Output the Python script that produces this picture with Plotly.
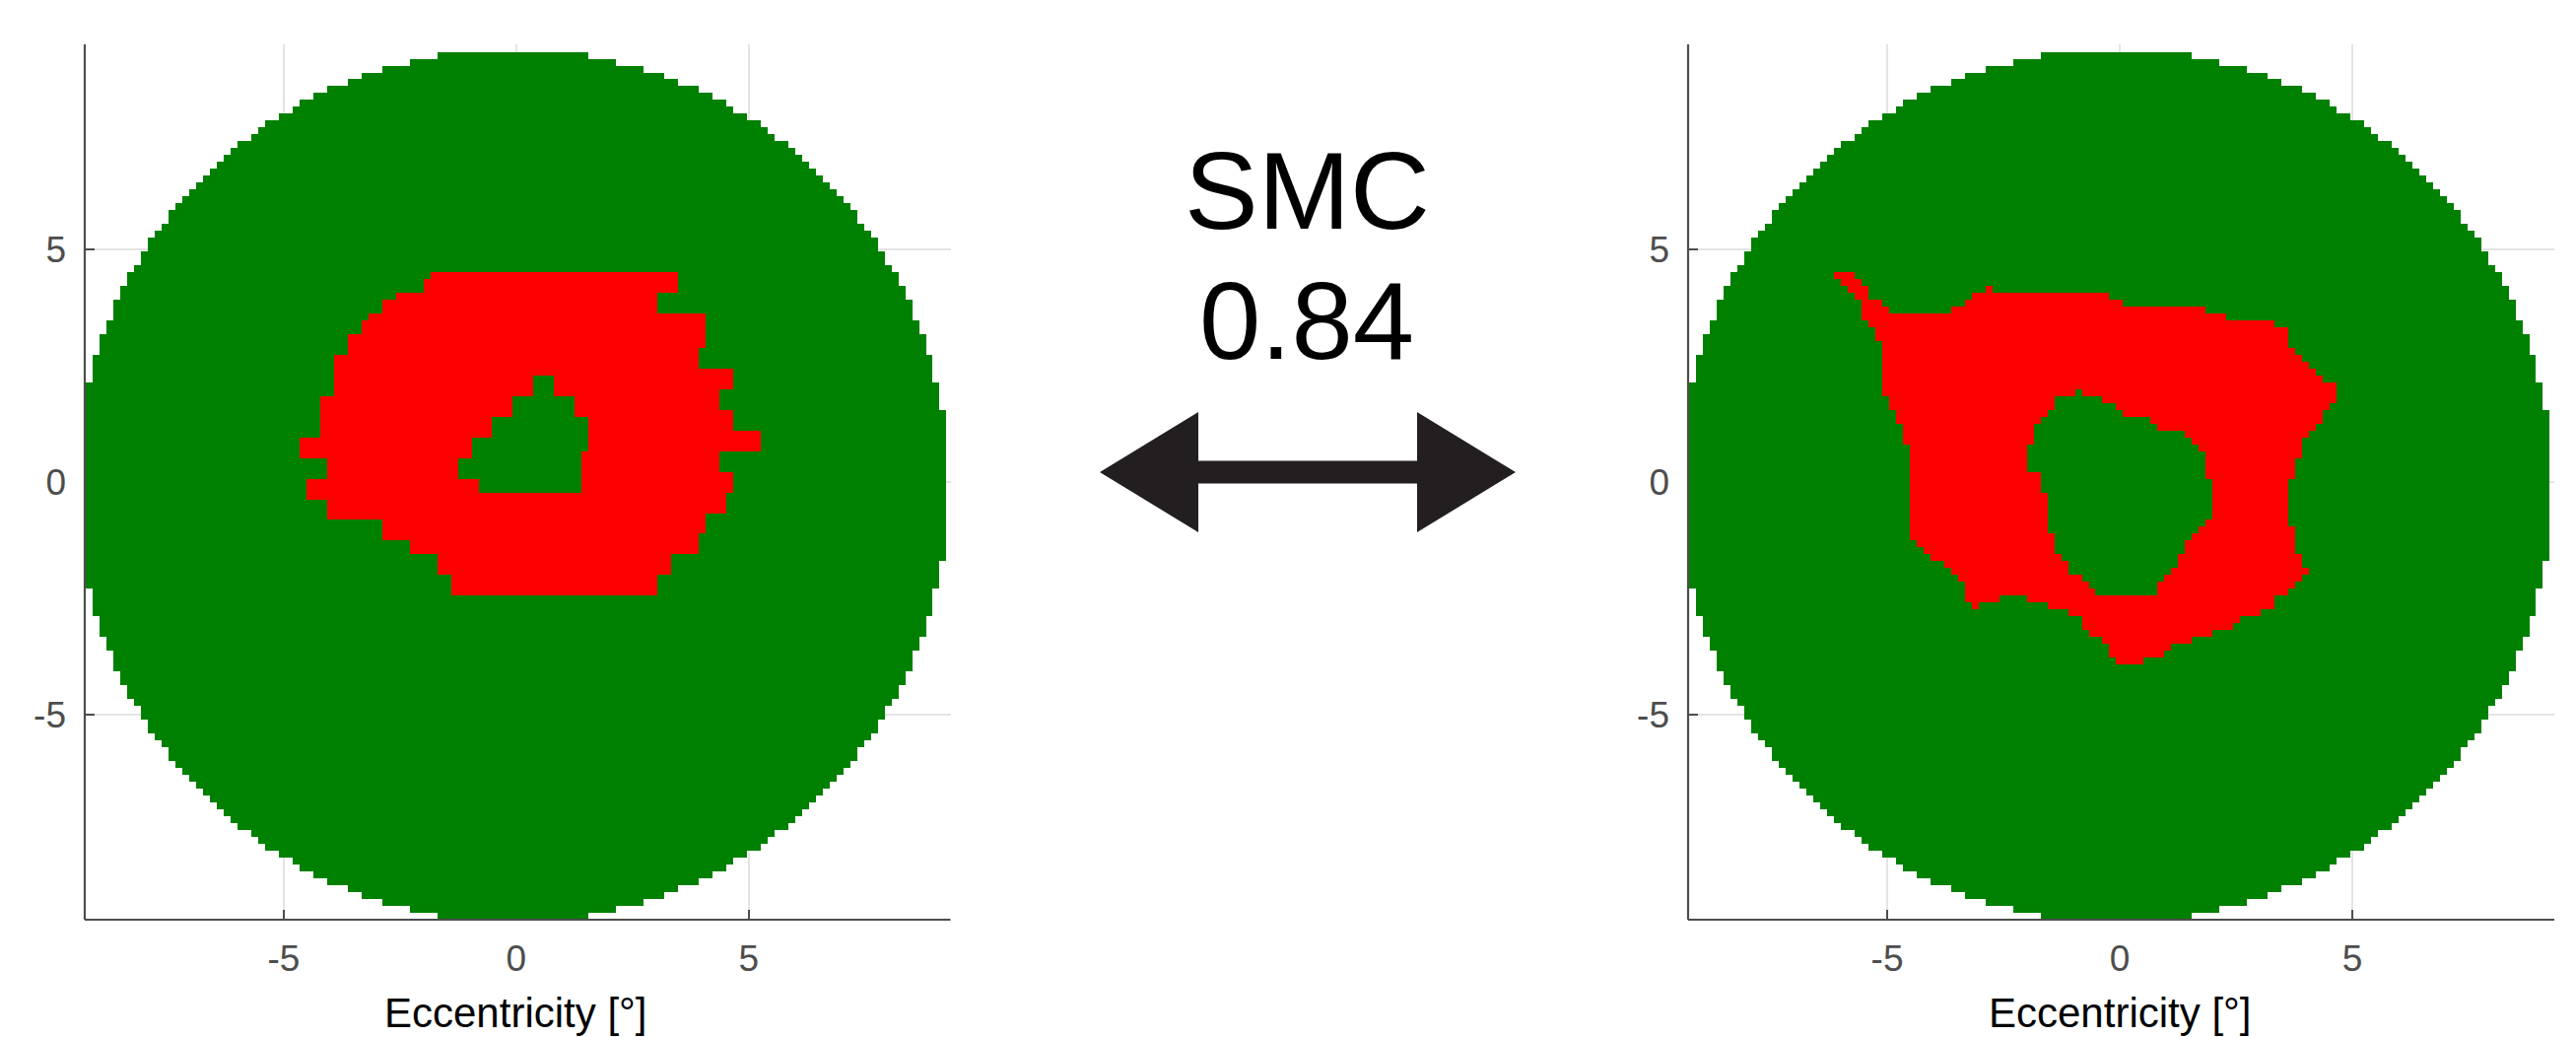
import numpy as np
import plotly.graph_objects as go

# ---------------------------------------------------------------------------
# Test grid and field
# ---------------------------------------------------------------------------
CELL = 0.148                 # spacing of the stimulus grid (deg)
FIELD_RADIUS = 9.385         # radius of the tested field (deg)
GRID_INDEX = np.arange(-64, 64)

# Scotoma outlines (deg) — left map
left_outer_x = [-1.83, 3.50, 3.50, 3.06, 3.06, 4.09, 4.09, 3.95, 3.95, 4.68, 4.68, 4.38,
                4.38, 4.68, 4.68, 5.28, 5.28, 4.38, 4.38, 4.68, 4.68, 4.53, 4.53, 4.09,
                4.09, 3.95, 3.95, 3.35, 3.35, 3.06, 3.06, -1.39, -1.39, -1.69, -1.69, -2.27,
                -2.27, -2.87, -2.87, -4.06, -4.06, -4.50, -4.50, -4.06, -4.06, -4.65, -4.65, -4.21,
                -4.21, -3.92, -3.92, -3.62, -3.62, -3.32, -3.32, -3.17, -3.17, -2.87, -2.87, -2.57,
                -2.57, -1.98, -1.98, -1.83]
left_outer_y = [4.54, 4.54, 4.10, 4.10, 3.655, 3.655, 2.91, 2.91, 2.465, 2.465, 2.02, 2.02,
                1.573, 1.573, 1.127, 1.127, 0.689, 0.689, 0.242, 0.242, -0.20, -0.20, -0.65, -0.65,
                -1.10, -1.10, -1.53, -1.53, -1.98, -1.98, -2.42, -2.42, -1.97, -1.97, -1.53, -1.53,
                -1.23, -1.23, -0.78, -0.78, -0.35, -0.35, 0.10, 0.10, 0.54, 0.54, 0.985, 0.985,
                1.87, 1.87, 2.77, 2.77, 3.21, 3.21, 3.51, 3.51, 3.655, 3.655, 3.95, 3.95,
                4.10, 4.10, 4.40, 4.40]
left_hole_x = [0.39, 0.82, 0.82, 1.27, 1.27, 1.57, 1.57, 1.42, 1.42, -0.78, -0.78, -1.24,
               -1.24, -0.93, -0.93, -0.49, -0.49, -0.05, -0.05, 0.39]
left_hole_y = [2.32, 2.32, 1.87, 1.87, 1.43, 1.43, 0.69, 0.69, -0.19, -0.19, 0.10, 0.10,
               0.54, 0.54, 0.985, 0.985, 1.43, 1.43, 1.87, 1.87]

# Scotoma outlines (deg) — right map
right_outer_x = [-6.14, -5.70, -5.70, -5.55, -5.55, -5.40, -5.40, -5.11, -5.11, -4.96, -4.96, -3.63,
                 -3.63, -3.33, -3.33, -3.18, -3.18, -2.89, -2.89, -2.74, -2.74, -0.23, -0.23, 0.07,
                 0.07, 1.85, 1.85, 2.29, 2.29, 3.33, 3.33, 3.62, 3.62, 3.78, 3.78, 3.93,
                 3.93, 4.08, 4.08, 4.22, 4.22, 4.37, 4.37, 4.66, 4.66, 4.51, 4.51, 4.37,
                 4.37, 4.22, 4.22, 4.08, 4.08, 3.93, 3.93, 3.78, 3.78, 3.62, 3.62, 3.78,
                 3.78, 3.93, 3.93, 4.08, 4.08, 3.93, 3.93, 3.78, 3.78, 3.62, 3.62, 3.33,
                 3.33, 3.04, 3.04, 2.59, 2.59, 2.44, 2.44, 2.00, 2.00, 1.56, 1.56, 1.11,
                 1.11, 0.96, 0.96, 0.52, 0.52, -0.08, -0.08, -0.23, -0.23, -0.37, -0.37, -0.66,
                 -0.66, -0.81, -0.81, -1.11, -1.11, -1.55, -1.55, -1.99, -1.99, -2.60, -2.60, -3.03,
                 -3.03, -3.18, -3.18, -3.33, -3.33, -3.48, -3.48, -3.63, -3.63, -3.78, -3.78, -4.07,
                 -4.07, -4.22, -4.22, -4.37, -4.37, -4.52, -4.52, -4.67, -4.67, -4.82, -4.82, -4.96,
                 -4.96, -5.11, -5.11, -5.26, -5.26, -5.40, -5.40, -5.55, -5.55, -5.70, -5.70, -5.85,
                 -5.85, -6.00, -6.00, -6.14]
right_outer_y = [4.54, 4.54, 4.39, 4.39, 4.24, 4.24, 3.94, 3.94, 3.80, 3.80, 3.65, 3.65,
                 3.80, 3.80, 3.94, 3.94, 4.09, 4.09, 4.24, 4.24, 4.09, 4.09, 3.94, 3.94,
                 3.80, 3.80, 3.65, 3.65, 3.50, 3.50, 3.35, 3.35, 2.90, 2.90, 2.75, 2.75,
                 2.61, 2.61, 2.46, 2.46, 2.31, 2.31, 2.16, 2.16, 1.72, 1.72, 1.57, 1.57,
                 1.27, 1.27, 1.13, 1.13, 0.98, 0.98, 0.53, 0.53, 0.08, 0.08, -0.95, -0.95,
                 -1.55, -1.55, -1.84, -1.84, -1.99, -1.99, -2.13, -2.13, -2.28, -2.28, -2.43, -2.43,
                 -2.73, -2.73, -2.88, -2.88, -3.03, -3.03, -3.18, -3.18, -3.32, -3.32, -3.47, -3.47,
                 -3.62, -3.62, -3.77, -3.77, -3.92, -3.92, -3.77, -3.77, -3.47, -3.47, -3.32, -3.32,
                 -3.18, -3.18, -2.88, -2.88, -2.73, -2.73, -2.58, -2.58, -2.43, -2.43, -2.58, -2.58,
                 -2.73, -2.73, -2.58, -2.58, -2.13, -2.13, -1.99, -1.99, -1.84, -1.84, -1.69, -1.69,
                 -1.55, -1.55, -1.40, -1.40, -1.25, -1.25, 0.83, 0.83, 1.27, 1.27, 1.57, 1.57,
                 1.86, 1.86, 3.05, 3.05, 3.35, 3.35, 3.50, 3.50, 3.94, 3.94, 4.09, 4.09,
                 4.24, 4.24, 4.39, 4.39]
right_hole_x = [-0.94, -0.81, -0.81, -0.37, -0.37, -0.08, -0.08, 0.07, 0.07, 0.67, 0.67, 0.82,
                0.82, 1.41, 1.41, 1.56, 1.56, 1.70, 1.70, 1.85, 1.85, 2.00, 2.00, 1.85,
                1.85, 1.70, 1.70, 1.56, 1.56, 1.41, 1.41, 1.26, 1.26, 1.11, 1.11, 0.96,
                0.96, 0.82, 0.82, -0.51, -0.51, -0.66, -0.66, -0.81, -0.81, -1.11, -1.11, -1.26,
                -1.26, -1.40, -1.40, -1.55, -1.55, -1.70, -1.70, -1.99, -1.99, -1.84, -1.84, -1.70,
                -1.70, -1.55, -1.55, -1.40, -1.40, -0.94]
right_hole_y = [2.01, 2.01, 1.86, 1.86, 1.72, 1.72, 1.57, 1.57, 1.42, 1.42, 1.27, 1.27,
                1.13, 1.13, 0.98, 0.98, 0.83, 0.83, 0.68, 0.68, 0.08, 0.08, -0.81, -0.81,
                -0.95, -0.95, -1.10, -1.10, -1.25, -1.25, -1.55, -1.55, -1.84, -1.84, -1.99, -1.99,
                -2.13, -2.13, -2.43, -2.43, -2.28, -2.28, -2.13, -2.13, -1.99, -1.99, -1.69, -1.69,
                -1.55, -1.55, -1.10, -1.10, -0.21, -0.21, 0.23, 0.23, 0.83, 0.83, 1.27, 1.27,
                1.42, 1.42, 1.57, 1.57, 1.86, 1.86]

smc_value = 0.84
tick_values = [-5, 0, 5]
tick_text = ["-5", "0", "5"]
x_title = "Eccentricity [°]"

# ---------------------------------------------------------------------------
W, H = 2614, 1052
FONT = "Liberation Sans, Arial, Helvetica, sans-serif"
AXIS_GREY = "#4D4D4D"
GREEN = "#008000"
RED = "#FF0000"


def in_polygon(px, py, vx, vy):
    """Even-odd point-in-polygon test on arrays of points."""
    vx = np.asarray(vx, float)
    vy = np.asarray(vy, float)
    inside = np.zeros(px.shape, dtype=bool)
    j = len(vx) - 1
    for i in range(len(vx)):
        xi, yi, xj, yj = vx[i], vy[i], vx[j], vy[j]
        crosses = (yi > py) != (yj > py)
        if yj != yi:
            x_cross = (xj - xi) * (py - yi) / (yj - yi) + xi
            inside ^= crosses & (px < x_cross)
        j = i
    return inside


centers = GRID_INDEX * CELL
CX, CY = np.meshgrid(centers, centers)
in_field = (CX + CELL / 2) ** 2 + (CY + CELL / 2) ** 2 <= FIELD_RADIUS ** 2


def field_map(ox, oy, hx, hy):
    scotoma = in_polygon(CX, CY, ox, oy) & ~in_polygon(CX, CY, hx, hy)
    z = np.where(in_field, 0.0, np.nan)
    z[in_field & scotoma] = 1.0
    return z


maps = [field_map(left_outer_x, left_outer_y, left_hole_x, left_hole_y),
        field_map(right_outer_x, right_outer_y, right_hole_x, right_hole_y)]

fig = go.Figure()
colorscale = [[0, GREEN], [0.5, GREEN], [0.5, RED], [1, RED]]
for k, z in enumerate(maps):
    fig.add_trace(go.Heatmap(
        x=centers, y=centers, z=z, zmin=0, zmax=1,
        colorscale=colorscale, showscale=False, hoverinfo="skip",
        xaxis="x" if k == 0 else "x2", yaxis="y" if k == 0 else "y2"))

y_dom = [1 - 933 / H, 1 - 45 / H]
x_doms = [[86 / W, 964.5 / W], [1713 / W, 2592 / W]]

axis_common = dict(
    tickmode="array", tickvals=tick_values, ticktext=tick_text,
    ticks="inside", ticklen=10, tickwidth=2, tickcolor=AXIS_GREY,
    showgrid=True, gridcolor="#E4E4E4", gridwidth=1.5,
    zeroline=False, showline=False, layer="below traces",
    tickfont=dict(family=FONT, size=37, color=AXIS_GREY),
    fixedrange=True,
)

layout = dict(
    width=W, height=H, margin=dict(l=0, r=0, t=0, b=0),
    paper_bgcolor="white", plot_bgcolor="white", showlegend=False,
)
for k, dom in enumerate(x_doms):
    sfx = "" if k == 0 else "2"
    layout["xaxis" + sfx] = dict(axis_common, domain=dom, range=[-9.28, 9.34],
                                 anchor="y" + sfx, ticklabelstandoff=14)
    layout["yaxis" + sfx] = dict(axis_common, domain=y_dom, range=[-9.41, 9.41],
                                 anchor="x" + sfx, ticklabelstandoff=18)
fig.update_layout(**layout)

shapes = []
annotations = []
for k in range(2):
    sfx = "" if k == 0 else "2"
    # left and bottom axis lines drawn on top of the maps
    shapes.append(dict(type="line", xref=f"x{sfx} domain", yref=f"y{sfx} domain",
                       x0=0, x1=1, y0=0, y1=0, layer="above",
                       line=dict(color=AXIS_GREY, width=2.2)))
    shapes.append(dict(type="line", xref=f"x{sfx} domain", yref=f"y{sfx} domain",
                       x0=0, x1=0, y0=0, y1=1, layer="above",
                       line=dict(color=AXIS_GREY, width=2.2)))
    annotations.append(dict(text=x_title, xref=f"x{sfx}", x=0, yref="paper",
                            y=1 - 1002 / H, yanchor="top", xanchor="center",
                            showarrow=False,
                            font=dict(family=FONT, size=42, color="black")))

# similarity index between the two maps
mid_x = 1326 / W
annotations.append(dict(text="SMC", xref="paper", yref="paper", x=mid_x, y=1 - 194 / H,
                        xanchor="center", yanchor="middle", showarrow=False,
                        font=dict(family=FONT, size=112, color="black")))
annotations.append(dict(text=f"{smc_value:.2f}", xref="paper", yref="paper", x=mid_x,
                        y=1 - 326 / H, xanchor="center", yanchor="middle", showarrow=False,
                        font=dict(family=FONT, size=112, color="black")))

# double-headed arrow between the maps (pixel geometry)
ax_l, ax_r = 1116, 1538
head_l, head_r = 1216, 1438
ay, head_h, shaft_h = 479, 61, 11.5
pts = [(ax_l, ay), (head_l, ay - head_h), (head_l, ay - shaft_h), (head_r, ay - shaft_h),
       (head_r, ay - head_h), (ax_r, ay), (head_r, ay + head_h), (head_r, ay + shaft_h),
       (head_l, ay + shaft_h), (head_l, ay + head_h)]
path = "M " + " L ".join(f"{px / W:.5f},{1 - py / H:.5f}" for px, py in pts) + " Z"
shapes.append(dict(type="path", path=path, xref="paper", yref="paper",
                   fillcolor="#231F20", line=dict(width=0)))

fig.update_layout(shapes=shapes, annotations=annotations)
fig.write_html("out.html")
